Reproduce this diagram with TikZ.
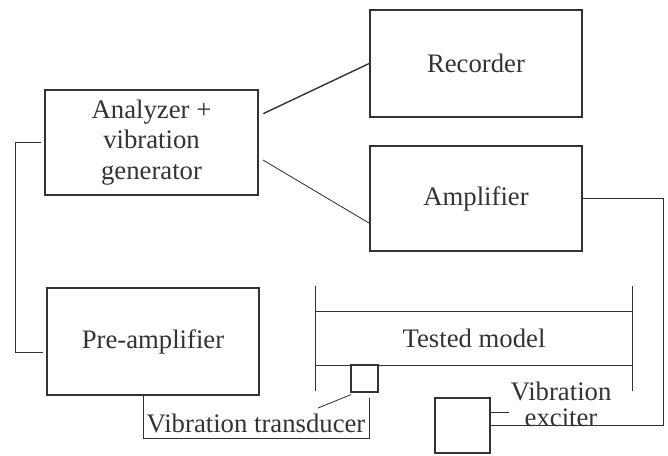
\documentclass[tikz,border=0pt]{standalone}
\usepackage{fontspec}
\setmainfont{Liberation Serif}
\usepackage{tikz}
\usetikzlibrary{calc}
\definecolor{ink}{rgb}{0.2,0.2,0.2}
\tikzstyle{unit} = [rectangle, draw=ink, line width=1.1pt, text=ink, align=center, font=\fontsize{19}{21.5}\selectfont]
\tikzstyle{tag} = [text=ink, align=center, inner sep=1pt, font=\fontsize{19}{18.5}\selectfont]
\tikzstyle{wire} = [draw=ink, line width=0.6pt]

\begin{document}
\begin{tikzpicture}[x=0.025cm,y=-0.025cm]
		\useasboundingbox (0,0) rectangle (668,455);
		\node (ana) [unit, minimum width=5.33cm, minimum height=2.63cm] at (151.5,142.5) {Analyzer +\\vibration\\generator};
		\node (rec) [unit, minimum width=5.3cm, minimum height=2.68cm] at (476,63.5) {Recorder};
		\node (amp) [unit, minimum width=5.3cm, minimum height=2.63cm] at (476,198.5) {Amplifier};
		\node (pre) [unit, minimum width=5.3cm, minimum height=2.68cm] at (153,341.5) {Pre-amplifier};
		\node (model) [tag, minimum width=7.9cm, minimum height=1.33cm] at (474,338.5) {Tested model};
		\node (trd) [unit, line width=0.9pt, minimum width=0.68cm, minimum height=0.68cm, inner sep=0pt] at (364.5,378.5) {};
		\node (exc) [unit, line width=1pt, minimum width=1.38cm, minimum height=1.38cm, inner sep=0pt] at (462.5,425.5) {};
		\node (tlab) [tag] at (256,423) {Vibration transducer};
		\node (elab) [tag] at (561,404) {Vibration\\exciter};
		\coordinate (lft) at (15,0);
		\coordinate (rgt) at (663,0);
		\coordinate (btm) at (0,438);
		\coordinate (tdlead) at (318,408);
		% tested model
		\draw [draw=ink, line width=0.9pt] (model.north west) -- (model.north east);
		\draw [draw=ink, line width=0.9pt] (model.south west) -- (model.south east);
		\draw [draw=ink, line width=0.9pt] ($(model.north west)+(0,-26)$) -- ($(model.south west)+(0,26)$);
		\draw [draw=ink, line width=0.9pt] ($(model.north east)+(0,-26)$) -- ($(model.south east)+(0,26)$);
		% connections
		\draw [wire, line width=1pt, shorten <=0.12cm] (ana.14.5) -- (rec.west);
		\draw [wire, shorten <=0.12cm] (ana.-8.3) -- (amp.193);
		\draw [wire] (amp.east) -- (amp.east -| rgt) -- (rgt |- exc.east) -- (exc.east);
		\draw [wire] (exc.24) -- (exc.24 -| elab.west);
		\draw [wire, shorten <=0.08cm, shorten >=0.08cm] (ana.west) -- (ana.west -| lft) -- (lft |- pre.186.7) -- (pre.186.7);
		\draw [wire, shorten >=0.12cm] (pre.-100.6) -- (pre.-100.6 |- btm) -- (btm -| trd.-71.6) -- (trd.-71.6);
		\draw [wire, shorten <=0.12cm] (trd.-122) -- (tdlead);
	\end{tikzpicture}
\end{document}
